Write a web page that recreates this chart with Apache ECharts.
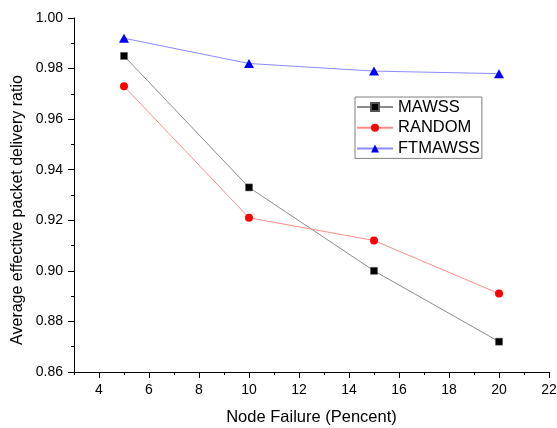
<!DOCTYPE html>
<html>
<head>
<meta charset="utf-8">
<script src="https://cdn.jsdelivr.net/npm/echarts@6/dist/echarts.min.js"></script>
<style>
html,body{margin:0;padding:0;background:#fff;}
#chart{width:557px;height:428px;}
</style>
</head>
<body>
<div id="chart"></div>
<script>
const nodeFailure = [5, 10, 15, 20];
const mawss = [0.985, 0.933, 0.900, 0.872];
const random = [0.973, 0.921, 0.912, 0.891];
const ftmawss = [0.992, 0.982, 0.979, 0.978];
const seriesNames = ['MAWSS', 'RANDOM', 'FTMAWSS'];
const xTitle = 'Node Failure (Pencent)';
const yTitle = 'Average effective packet delivery ratio';

const FONT = '"Liberation Sans", Arial, sans-serif';
const pairs = arr => nodeFailure.map((x, i) => [x, arr[i]]);

const chart = echarts.init(document.getElementById('chart'), null, {renderer: 'canvas'});
chart.setOption({
  backgroundColor: '#ffffff',
  animation: false,
  grid: [
    {left: 74, right: 8, top: 18, bottom: 56, outerBoundsMode: 'none'},
    {left: 99, right: 8, top: 18, bottom: 56, outerBoundsMode: 'none'}
  ],
  graphic: [{
    type: 'text', x: 18, y: 210, rotation: Math.PI / 2,
    style: {text: yTitle, fontFamily: FONT, fontSize: 16, fill: '#000', align: 'center', verticalAlign: 'middle'}
  }],
  legend: {
    orient: 'vertical',
    left: 355, top: 97,
    padding: [0, 2, 0, 1],
    itemGap: 0.7,
    itemWidth: 36, itemHeight: 10,
    borderColor: '#808080', borderWidth: 1,
    textStyle: {fontFamily: FONT, fontSize: 16.5, color: '#000', lineHeight: 20},
    data: seriesNames
  },
  xAxis: [
    {
      type: 'value', gridIndex: 0, min: 3, max: 22, interval: 1,
      axisLine: {show: true, onZero: false, lineStyle: {color: '#000', width: 1}},
      axisTick: {show: true, length: 3, lineStyle: {color: '#000'}},
      axisLabel: {show: false},
      splitLine: {show: false},
      name: xTitle, nameLocation: 'middle', nameGap: 37,
      nameTextStyle: {fontFamily: FONT, fontSize: 16.5, color: '#000'}
    },
    {
      type: 'value', gridIndex: 1, min: 4, max: 22, interval: 2,
      axisLine: {show: false, onZero: false},
      axisTick: {show: true, length: 6, lineStyle: {color: '#000'}},
      axisLabel: {show: true, margin: 11, fontFamily: FONT, fontSize: 14, color: '#000'},
      splitLine: {show: false}
    }
  ],
  yAxis: [
    {
      type: 'value', gridIndex: 0, min: 0.86, max: 1.0, interval: 0.02,
      axisLine: {show: true, onZero: false, lineStyle: {color: '#000', width: 1}},
      axisTick: {show: true, length: 6, lineStyle: {color: '#000'}},
      minorTick: {show: true, splitNumber: 2, length: 3, lineStyle: {color: '#000'}},
      axisLabel: {margin: 11, fontFamily: FONT, fontSize: 14, color: '#000', formatter: v => v.toFixed(2)},
      splitLine: {show: false}
    },
    {type: 'value', gridIndex: 1, min: 0.86, max: 1.0, show: false}
  ],
  series: [
    {
      name: seriesNames[0], type: 'line', xAxisIndex: 0, yAxisIndex: 0,
      data: pairs(mawss), symbol: 'rect', symbolSize: 7,
      itemStyle: {color: '#000', borderColor: '#555', borderWidth: 0.5},
      lineStyle: {color: '#8c8c8c', width: 1}
    },
    {
      name: seriesNames[1], type: 'line', xAxisIndex: 0, yAxisIndex: 0,
      data: pairs(random), symbol: 'circle', symbolSize: 8,
      itemStyle: {color: '#ff0000'},
      lineStyle: {color: '#ff8c8c', width: 1}
    },
    {
      name: seriesNames[2], type: 'line', xAxisIndex: 0, yAxisIndex: 0,
      data: pairs(ftmawss), symbol: 'triangle', symbolSize: [10, 9],
      itemStyle: {color: '#0000ff'},
      lineStyle: {color: '#8c8cff', width: 1}
    }
  ]
});
</script>
</body>
</html>
